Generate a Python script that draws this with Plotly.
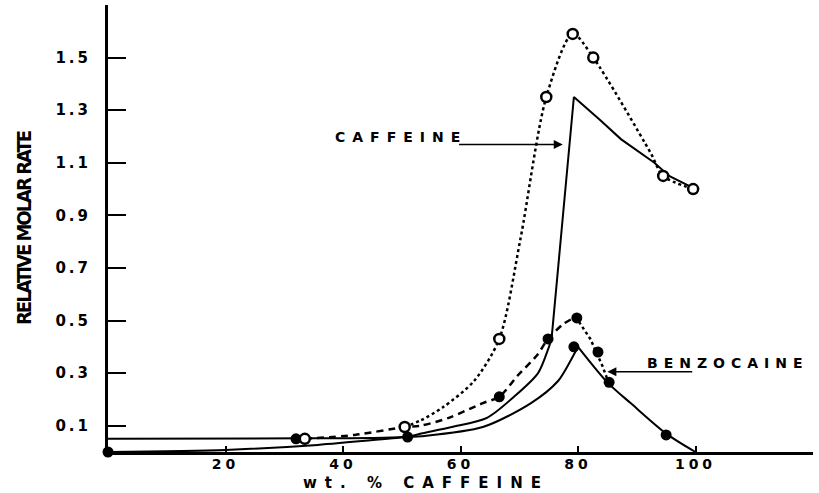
import plotly.graph_objects as go

# ---- data ----
# caffeine, observed points (open circles)
caf_obs_x = [33.5, 50.5, 66.6, 74.6, 79.1, 82.6, 94.5, 99.6]
caf_obs_y = [0.05, 0.095, 0.43, 1.35, 1.59, 1.50, 1.05, 1.00]
# caffeine, dotted curve through observed points
caf_dot_x = [50.5, 53.2, 57.0, 62.3, 66.6, 70.2, 74.6, 79.1, 82.6, 92.3, 94.5, 99.6]
caf_dot_y = [0.095, 0.12, 0.17, 0.27, 0.43, 0.81, 1.35, 1.59, 1.50, 1.14, 1.05, 1.00]
# caffeine, solid (calculated) curve
caf_calc_x = [0, 33.5, 51, 53.3, 58.5, 64.5, 69.1, 73.2, 74.9, 75.5, 77.0, 79.3, 83.9, 87.3, 93.0, 95.5, 100]
caf_calc_y = [0.05, 0.052, 0.058, 0.07, 0.095, 0.13, 0.21, 0.30, 0.39, 0.43, 0.80, 1.35, 1.26, 1.19, 1.10, 1.05, 1.00]

# benzocaine, observed points (filled circles)
bz_obs_x = [0, 32, 51, 66.6, 74.9, 79.8, 79.3, 83.4, 85.3, 95]
bz_obs_y = [0, 0.05, 0.057, 0.21, 0.43, 0.51, 0.40, 0.38, 0.265, 0.065]
# benzocaine, dashed curve (rising part)
bz_dash_x = [33.5, 42, 50.5, 53.2, 58, 63.8, 66.6, 69.7, 73.1, 74.8, 77.4, 79.6]
bz_dash_y = [0.05, 0.065, 0.095, 0.10, 0.13, 0.186, 0.21, 0.29, 0.37, 0.427, 0.485, 0.514]
# benzocaine, dotted curve (falling part)
bz_fall_x = [79.6, 82.1, 84.2, 85.1]
bz_fall_y = [0.514, 0.43, 0.325, 0.27]
# benzocaine, solid (calculated) curve
bz_calc_x = [0, 20, 35.7, 51, 53.3, 63.8, 72, 76.6, 78.8, 80, 85, 89, 95, 100]
bz_calc_y = [0, 0.008, 0.027, 0.057, 0.06, 0.095, 0.186, 0.27, 0.35, 0.40, 0.265, 0.185, 0.07, 0]

x_ticks = [20, 40, 60, 80, 100]
x_tick_labels = ["20", "40", "60", "80", "100"]
y_ticks = [0.1, 0.3, 0.5, 0.7, 0.9, 1.1, 1.3, 1.5]
y_tick_labels = ["0.1", "0.3", "0.5", "0.7", "0.9", "1.1", "1.3", "1.5"]

x_title = "wt. % CAFFEINE"
y_title = "RELATIVE MOLAR RATE"
label_caf = "CAFFEINE"
label_bz = "BENZOCAINE"

FONT = "DejaVu Sans, Verdana, sans-serif"
NARROW = "Liberation Sans Narrow, DejaVu Sans Condensed, Arial Narrow, sans-serif"


def spaced(t, px):
    return '<span style="letter-spacing:%spx">%s</span>' % (px, t)


def line_trace(xs, ys, width, dash=None, shape="linear"):
    return go.Scatter(x=xs, y=ys, mode="lines", showlegend=False, hoverinfo="skip",
                      line=dict(color="black", width=width, dash=dash, shape=shape, smoothing=0.8))


fig = go.Figure()

# caffeine calculated: smooth rise, then sharp jump and decline
CK = caf_calc_x.index(75.5)
fig.add_trace(line_trace(caf_calc_x[:CK + 1], caf_calc_y[:CK + 1], 2, shape="spline"))
fig.add_trace(line_trace(caf_calc_x[CK:], caf_calc_y[CK:], 2))
# benzocaine calculated: smooth rise to sharp peak, then fall
BK = bz_calc_x.index(80)
fig.add_trace(line_trace(bz_calc_x[:BK + 1], bz_calc_y[:BK + 1], 2, shape="spline"))
fig.add_trace(line_trace(bz_calc_x[BK:], bz_calc_y[BK:], 2, shape="spline"))
# observed curves
fig.add_trace(line_trace(caf_dot_x, caf_dot_y, 2.5, dash="3px,3px", shape="spline"))
fig.add_trace(line_trace(bz_dash_x, bz_dash_y, 2.5, dash="7px,5px", shape="spline"))
fig.add_trace(line_trace(bz_fall_x, bz_fall_y, 2.5, dash="3px,3px"))

fig.add_trace(go.Scatter(x=bz_obs_x, y=bz_obs_y, mode="markers", cliponaxis=False,
                         marker=dict(symbol="circle", size=11, color="black"), showlegend=False))
fig.add_trace(go.Scatter(x=caf_obs_x, y=caf_obs_y, mode="markers", cliponaxis=False,
                         marker=dict(symbol="circle", size=10, color="white",
                                     line=dict(color="black", width=2.5)), showlegend=False))

fig.update_layout(
    width=819, height=493,
    margin=dict(l=108, r=6, t=5, b=41),
    paper_bgcolor="white", plot_bgcolor="white",
    font=dict(family=FONT, color="black"),
    xaxis=dict(range=[0, 120], showgrid=False, zeroline=False,
               showline=True, linecolor="black", linewidth=3,
               ticks="inside", ticklen=6, tickwidth=2, tickcolor="black",
               tickvals=x_ticks, ticktext=[spaced(t, 4) for t in x_tick_labels],
               ticklabelstandoff=-3,
               tickfont=dict(family=FONT, size=14, weight="bold", color="black")),
    yaxis=dict(range=[0, 1.7], showgrid=False, zeroline=False,
               showline=True, linecolor="black", linewidth=3,
               ticks="inside", ticklen=18, tickwidth=2, tickcolor="black",
               tickvals=y_ticks, ticktext=[spaced(t, 3) for t in y_tick_labels],
               ticklabelstandoff=11,
               tickfont=dict(family=FONT, size=15, weight="bold", color="black")),
    annotations=[
        dict(xref="paper", yref="paper", x=(426 - 108) / 705, y=(452 - 483) / 447,
             text=spaced(x_title, 8), showarrow=False, xanchor="center", yanchor="middle",
             font=dict(family=FONT, size=15, weight="bold", color="black")),
        dict(xref="paper", yref="paper", x=(24 - 108) / 705, y=(452 - 228) / 447,
             text=spaced(y_title, -2), showarrow=False, textangle=-90,
             xanchor="center", yanchor="middle",
             font=dict(family=NARROW, size=20, weight="bold", color="black")),
        dict(xref="x", yref="y", x=49.8, y=1.199, text=spaced(label_caf, 7), showarrow=False,
             xanchor="center", yanchor="middle",
             font=dict(family=FONT, size=14, weight="bold", color="black")),
        dict(xref="x", yref="y", x=105.5, y=0.34, text=spaced(label_bz, 6), showarrow=False,
             xanchor="center", yanchor="middle",
             font=dict(family=FONT, size=14, weight="bold", color="black")),
        dict(xref="x", yref="y", axref="x", ayref="y", x=77.4, y=1.169, ax=59.5, ay=1.169,
             text="", showarrow=True, arrowhead=2, arrowsize=1.2, arrowwidth=1.5, arrowcolor="black"),
        dict(xref="x", yref="y", axref="x", ayref="y", x=85.0, y=0.305, ax=99.7, ay=0.305,
             text="", showarrow=True, arrowhead=2, arrowsize=1.2, arrowwidth=1.5, arrowcolor="black"),
    ],
)

fig.write_html("out.html", config={"displayModeBar": False},
               post_script="document.body.style.margin='0px';")
